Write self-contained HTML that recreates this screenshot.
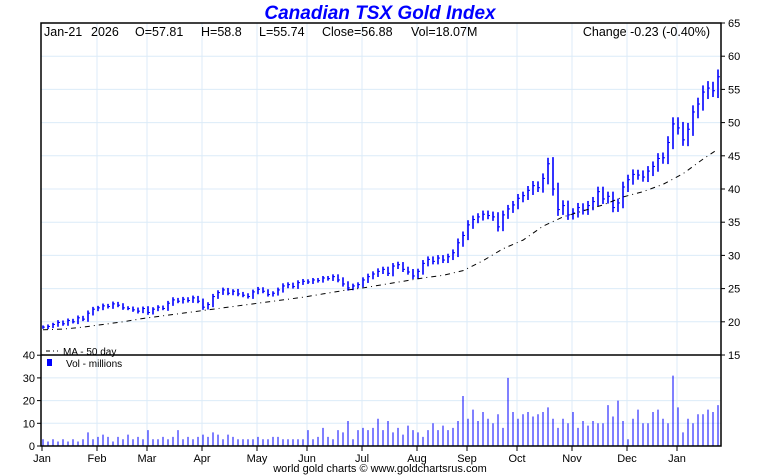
<!DOCTYPE html>
<html><head><meta charset="utf-8"><style>
body{margin:0;background:#fff;}
svg{display:block;font-family:"Liberation Sans",sans-serif;}
</style></head><body>
<svg id="c" width="760" height="475">
<text x="380" y="19" text-anchor="middle" font-size="19" font-weight="bold" font-style="italic" fill="#0000ff">Canadian TSX Gold Index</text>
<g id="grid"></g>
<g id="marks"></g>
<rect x="41" y="23" width="680" height="423" fill="none" stroke="#000" stroke-width="1.5"/>
<line x1="41" y1="355" x2="721" y2="355" stroke="#000" stroke-width="1.5"/>
<g font-size="12.5">
<text x="44" y="36">Jan-21</text><text x="91" y="36">2026</text><text x="135" y="36">O=57.81</text><text x="201" y="36">H=58.8</text><text x="259" y="36">L=55.74</text><text x="322" y="36">Close=56.88</text><text x="411" y="36">Vol=18.07M</text>
</g>
<text x="710" y="36" font-size="12.5" text-anchor="end">Change -0.23 (-0.40%)</text>
<g><line x1="46" y1="351" x2="58" y2="351" stroke="#000" stroke-dasharray="4,3,1,3"/><text x="63" y="355" font-size="10">MA - 50 day</text></g>
<g><rect x="47" y="359" width="5" height="7" fill="#0000ff"/><text x="66" y="367" font-size="10">Vol - millions</text></g>
<text x="380" y="472" text-anchor="middle" font-size="11">world gold charts © www.goldchartsrus.com</text>
<g id="axes"></g>
</svg>
<script>
const closes=[19.2,19.3,19.6,19.9,19.7,20.2,20.0,20.6,20.4,21.3,21.9,22.1,22.4,22.3,22.7,22.5,22.1,22.0,21.8,21.6,22.0,21.4,21.9,22.2,22.0,22.8,23.3,23.1,23.4,23.2,23.6,23.1,22.2,22.6,23.8,24.4,24.8,24.3,24.6,24.2,24.0,23.8,24.5,24.9,24.6,24.1,24.3,24.8,25.4,25.6,25.3,25.9,26.1,26.0,26.3,26.2,26.6,26.5,26.8,26.3,25.7,25.1,25.4,25.6,26.3,26.8,27.2,27.6,27.9,27.3,28.4,28.6,27.9,27.5,26.9,27.6,28.8,29.4,29.1,29.6,29.3,29.8,30.4,31.9,33.0,34.6,35.4,35.8,36.2,36.0,35.8,34.3,36.1,37.0,37.6,38.6,39.0,39.8,40.5,40.2,41.6,43.8,40.0,36.9,37.5,36.1,36.4,37.2,36.8,37.5,38.1,39.6,38.5,38.9,37.2,37.9,40.3,41.4,42.2,42.1,41.8,42.7,43.4,44.6,44.7,47.0,49.8,49.2,47.4,49.0,51.6,52.8,54.6,55.2,54.8,56.9];
const spreads=[0.5,0.6,0.5,0.7,0.6,0.6,0.5,0.7,0.6,0.8,0.7,0.6,0.7,0.6,0.7,0.6,0.6,0.5,0.6,0.7,0.6,0.7,0.6,0.6,0.5,0.7,0.8,0.6,0.7,0.6,0.7,0.6,0.8,0.7,0.8,0.7,0.7,0.6,0.6,0.7,0.6,0.6,0.7,0.7,0.6,0.6,0.6,0.7,0.8,0.7,0.6,0.7,0.7,0.6,0.6,0.6,0.6,0.6,0.7,0.7,0.8,0.8,0.7,0.7,0.8,0.9,0.8,0.9,0.8,0.8,0.9,0.9,0.8,0.8,0.9,0.8,1.0,0.9,0.9,0.9,0.9,0.9,1.0,1.3,1.2,1.4,1.2,1.1,1.1,1.1,1.2,1.4,1.3,1.2,1.2,1.3,1.2,1.3,1.4,1.3,1.5,1.8,2.0,1.9,1.6,1.5,1.4,1.4,1.3,1.4,1.4,1.5,1.5,1.4,1.4,1.3,1.6,1.5,1.5,1.4,1.4,1.5,1.5,1.6,1.6,1.9,2.0,2.0,1.8,1.9,2.0,1.9,2.0,2.1,1.9,2.2];
const volumes=[3,2,3,2,3,2,3,2,3,6,3, 4,5,4,2,4,3,5,3,4,3, 7,3,3,4,3,4,7,3,4,3,4, 5,4,6,5,3,5,4,3,3,3,3, 4,3,3,4,4,3,3,3,3,3, 7,3,4,8,4,3,7,6,11,3,7, 8,7,8,12,7,11,6,8,5,9,7, 6,4,7,10,7,9,7,8,11,22, 12,16,11,15,12,10,14,8,30,15, 12,14,15,13,14,15,17,12,8,12,10, 15,8,11,9,11,10,10,18,13,20,11, 3,12,16,10,10,15,16,12,10,31, 17,6,12,10,14,14,16,15,18];
const maValues=[18.8,18.9,19.2,19.6,20.0,20.5,20.9,21.3,21.7,22.1,22.5,22.9,23.3,23.7,24.2,24.7,25.1,25.6,26.1,26.6,27.0,27.7,29.2,31.0,32.3,34.4,35.8,36.7,37.6,38.8,39.6,40.7,42.3,44.5,46.0];
const priceTicks=[15,20,25,30,35,40,45,50,55,60,65];
const volTicks=[0,10,20,30,40];
const months=["Jan","Feb","Mar","Apr","May","Jun","Jul","Aug","Sep","Oct","Nov","Dec","Jan"];
const monthBars=[0,11,21,32,43,53,64,75,85,95,106,117,127];

const NS="http://www.w3.org/2000/svg";
const X0=43,STEP=675/(closes.length-1);
const xs=i=>X0+i*STEP;
const py=p=>355-(p-15)*6.64;
const vy=v=>446-v*2.27;
function mk(parent,tag,attrs){const e=document.createElementNS(NS,tag);for(const k in attrs)e.setAttribute(k,attrs[k]);document.getElementById(parent).appendChild(e);return e;}

priceTicks.forEach(t=>{if(t>15&&t<65){const l=mk('grid','line',{x1:41,x2:721,y1:py(t),y2:py(t),stroke:'#dcebf8','stroke-width':1});

}});
volTicks.forEach(t=>{if(t>0&&t<40){const l=mk('grid','line',{x1:41,x2:721,y1:vy(t),y2:vy(t),stroke:'#dcebf8','stroke-width':1});

}});
monthBars.forEach((b,k)=>{if(k>0){const l=mk('grid','line',{x1:xs(b)-1,x2:xs(b)-1,y1:23,y2:446,stroke:'#dcebf8','stroke-width':1});

}});

closes.forEach((c,i)=>{const o=i>0?closes[i-1]:c;const hi=Math.max(o,c)+spreads[i]*0.5,lo=Math.min(o,c)-spreads[i]*0.5;const x=xs(i);
const l=mk('marks','line',{x1:x,x2:x,y1:py(hi),y2:py(lo),stroke:'#0000ff','stroke-width':1.6});


const t=mk('marks','line',{x1:x,x2:x+2,y1:py(c),y2:py(c),stroke:'#0000ff','stroke-width':1});

});

const maPts=maValues.map((v,k)=>xs(Math.min(k*4,closes.length-1))+','+py(v)).join(' ');
const ma=mk('marks','polyline',{points:maPts,fill:'none',stroke:'#000','stroke-width':1,'stroke-dasharray':'5,4,1,4'});



volumes.forEach((v,i)=>{const x=xs(i);const l=mk('marks','line',{x1:x,x2:x,y1:446,y2:vy(v),stroke:'#0000ff','stroke-width':1});

});

priceTicks.forEach(t=>{const y=py(t);mk('axes','line',{x1:721,x2:725,y1:y,y2:y,stroke:'#000'});
const tx=mk('axes','text',{x:728,y:y+4,'font-size':11});tx.textContent=t;

});
volTicks.forEach(t=>{const y=vy(t);mk('axes','line',{x1:37,x2:41,y1:y,y2:y,stroke:'#000'});
const tx=mk('axes','text',{x:35,y:y+4,'font-size':11,'text-anchor':'end'});tx.textContent=t;

});
monthBars.forEach((b,k)=>{const x=xs(b)-1;mk('axes','line',{x1:x,x2:x,y1:446,y2:451,stroke:'#000'});
const tx=mk('axes','text',{x:x,y:462,'font-size':11,'text-anchor':'middle'});tx.textContent=months[k];

});
</script>
</body></html>
